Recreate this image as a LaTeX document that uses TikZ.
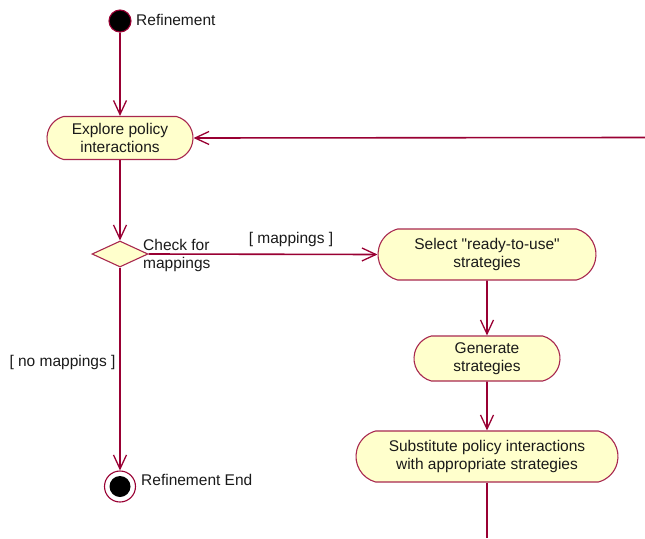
\documentclass[tikz,border=0pt]{standalone}
\usepackage{fontspec}
\setmainfont{Liberation Sans}[Ligatures=TeXOff]
\usetikzlibrary{shapes.misc,shapes.geometric,arrows.meta}
\definecolor{umlline}{HTML}{990033}
\definecolor{umledge}{HTML}{A8284F}
\definecolor{umlfill}{HTML}{FFFFCC}
\definecolor{umltext}{HTML}{1A1A1A}
\begin{document}
\begin{tikzpicture}[x=1pt,y=-1pt,
  font=\fontsize{15.5}{18}\selectfont,
  activity/.style={rounded rectangle, rounded rectangle arc length=150,
    draw=umledge, fill=umlfill, line width=1.1pt, inner sep=0pt,
    align=center, text=umltext},
  flow/.style={draw=umlline, line width=1.6pt,
    -{Straight Barb[length=14pt,width=13pt,line width=1.3pt]}},
  plain/.style={draw=umlline, line width=1.6pt},
  lbl/.style={text=umltext, inner sep=0pt}
]
\useasboundingbox (0,0) rectangle (645,538);

% initial state
\node[circle, fill=black, draw=umlline, line width=1.1pt, minimum size=22pt,
  inner sep=0pt] (start) at (120,21) {};
\node[lbl, anchor=west] (startlbl) at (136,20) {Refinement};

% activities
\node[activity, minimum width=146pt, minimum height=43pt] (explore)
  at (120,138) {Explore policy\\interactions};
\node[diamond, draw=umledge, fill=umlfill, line width=1.1pt, minimum width=56pt,
  minimum height=26pt, inner sep=0pt] (check) at (120,254) {};
\node[lbl, anchor=west, align=left] (checklbl) at (143,255)
  {Check for\\mappings};
\node[activity, minimum width=218pt, minimum height=51pt] (select)
  at (487,254.5) {Select "ready-to-use"\\strategies};
\node[activity, minimum width=146pt, minimum height=45pt] (generate)
  at (487,358.5) {Generate\\strategies};
\node[activity, minimum width=262pt, minimum height=51pt] (subst)
  at (487,456.5) {Substitute policy interactions\\with appropriate strategies};

% final state
\node[circle, fill=white, draw=umlline, line width=1.1pt, minimum size=31pt,
  inner sep=0pt] (final) at (120,486.5) {};
\node[circle, fill=black, minimum size=21pt, inner sep=0pt] (finaldot)
  at (final.center) {};
\node[lbl, anchor=west] (finallbl) at (141,480) {Refinement End};

% guard labels
\node[lbl] (yesguard) at (291,239) {[ mappings ]};
\node[lbl] (noguard) at (62.5,362) {[ no mappings ]};

% loose ends of the flow
\coordinate (loopin) at (645,137.5);
\coordinate (flowout) at (487,538);

% transitions
\draw[flow] (start) -- (explore);
\draw[flow] (explore) -- (check);
\draw[flow] (check.east) -- (select.west);
\draw[flow] (check.south) -- (final.north);
\draw[flow] (select) -- (generate);
\draw[flow] (generate) -- (subst);
\draw[plain] (subst.south) -- (flowout);
\draw[flow] (loopin) -- (explore.east);
\end{tikzpicture}
\end{document}
